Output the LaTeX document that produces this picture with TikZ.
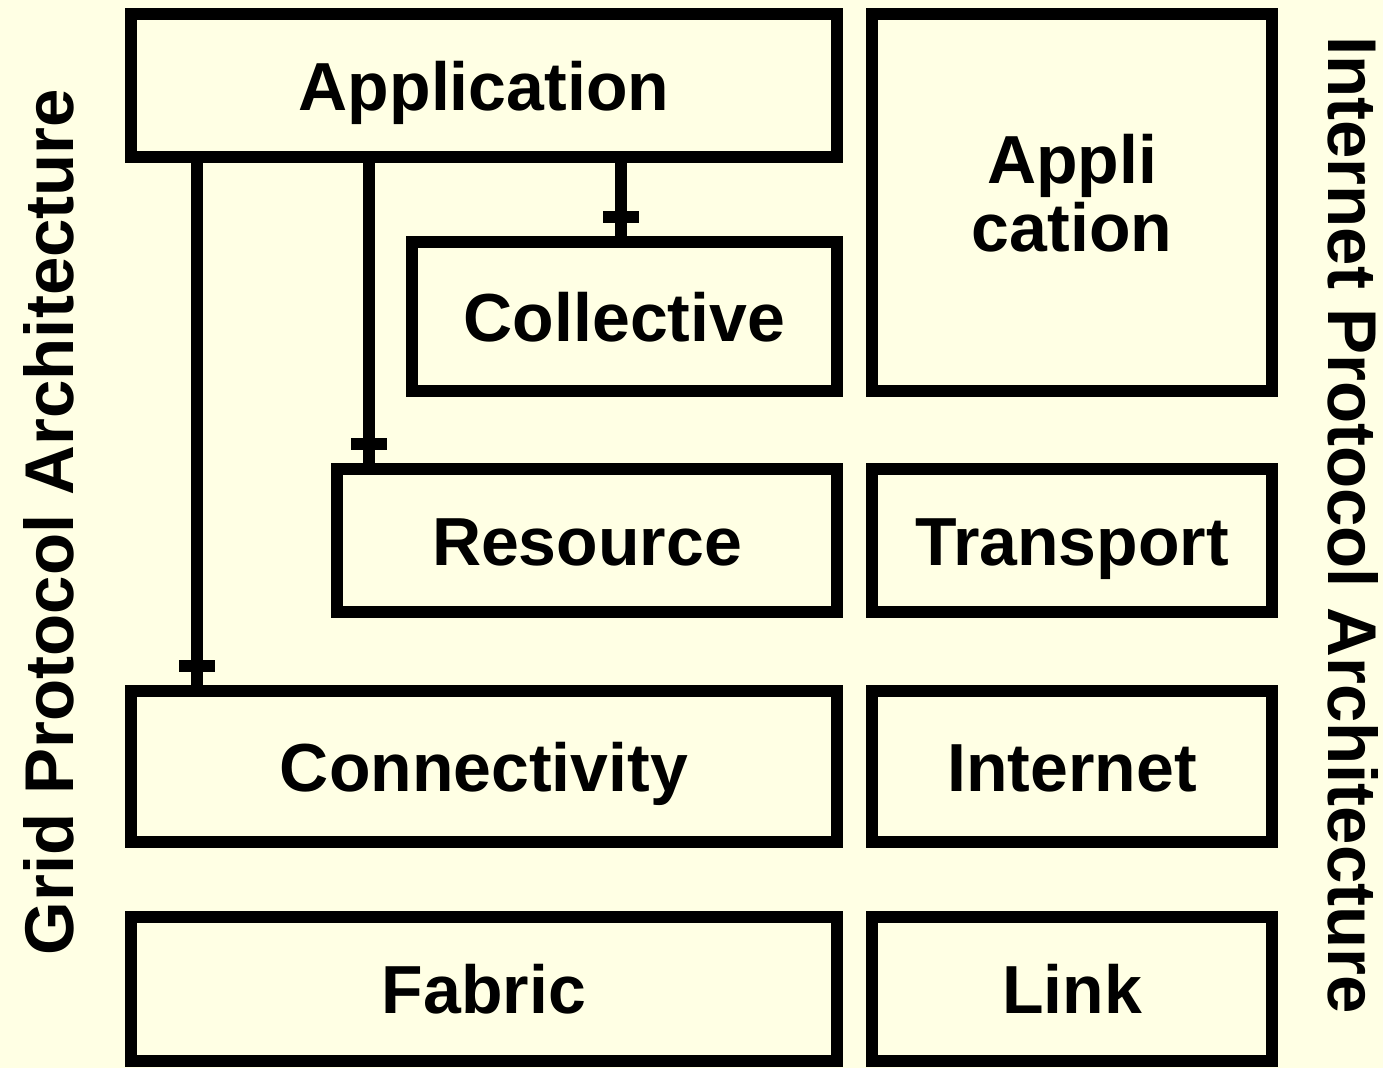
\documentclass[tikz,border=0pt]{standalone}
\usepackage{fontspec}
\setmainfont{Liberation Sans}
\usepackage{xcolor}
\usepackage{tikz}
\usetikzlibrary{decorations.markings}
\definecolor{paper}{RGB}{255,255,228}
\tikzset{
  layer/.style={draw, line width=11.5pt, inner sep=0pt, outer sep=0pt,
    font=\bfseries\fontsize{68}{68}\selectfont, align=center},
  oneline/.style={layer, text height=49pt, text depth=0pt},
  feeds/.style={line width=11.5pt, postaction={decorate, decoration={markings,
    mark=at position -25pt with {\draw[line width=11.5pt] (0pt,-18pt) -- (0pt,18pt);}}}},
  side/.style={font=\bfseries\fontsize{69}{69}\selectfont, anchor=base}
}

\begin{document}
\begin{tikzpicture}[x=1pt,y=-1pt]
\fill[paper] (0,0) rectangle (1383,1068);
\useasboundingbox (0,0) rectangle (1383,1068);
%
\node[oneline, minimum width=706pt, minimum height=143pt] (app) at (484,85.5) {Application};
\node[oneline, minimum width=425pt, minimum height=149pt] (coll) at (624.5,316.5) {Collective};
\node[oneline, minimum width=500pt, minimum height=143pt] (res) at (587,540.5) {Resource};
\node[oneline, minimum width=706pt, minimum height=151pt] (conn) at (484,766.5) {Connectivity};
\node[oneline, minimum width=706pt, minimum height=144pt] (fab) at (484,989) {Fabric};
%
\node[layer, minimum width=400pt, minimum height=377pt] (iapp) at (1072,202.5) {Appli\\cation\\[-48pt]};
\node[oneline, minimum width=400pt, minimum height=143pt] (trans) at (1072,540.5) {Transport};
\node[oneline, minimum width=400pt, minimum height=151pt] (inet) at (1072,766.5) {Internet};
\node[oneline, minimum width=400pt, minimum height=144pt] (link) at (1072,989) {Link};
%
\draw[feeds] ([xshift=66pt]app.south west) -- ([xshift=66pt]conn.north west);
\draw[feeds] ([xshift=238pt]app.south west) -- ([xshift=32pt]res.north west);
\draw[feeds] ([xshift=490pt]app.south west) -- ([xshift=209pt]coll.north west);
%
\node[side, rotate=90] (grid) at (73,522) {Grid Protocol Architecture};
\node[side, rotate=-90] (ip) at (1328,525) {Internet Protocol Architecture};
\end{tikzpicture}
\end{document}
